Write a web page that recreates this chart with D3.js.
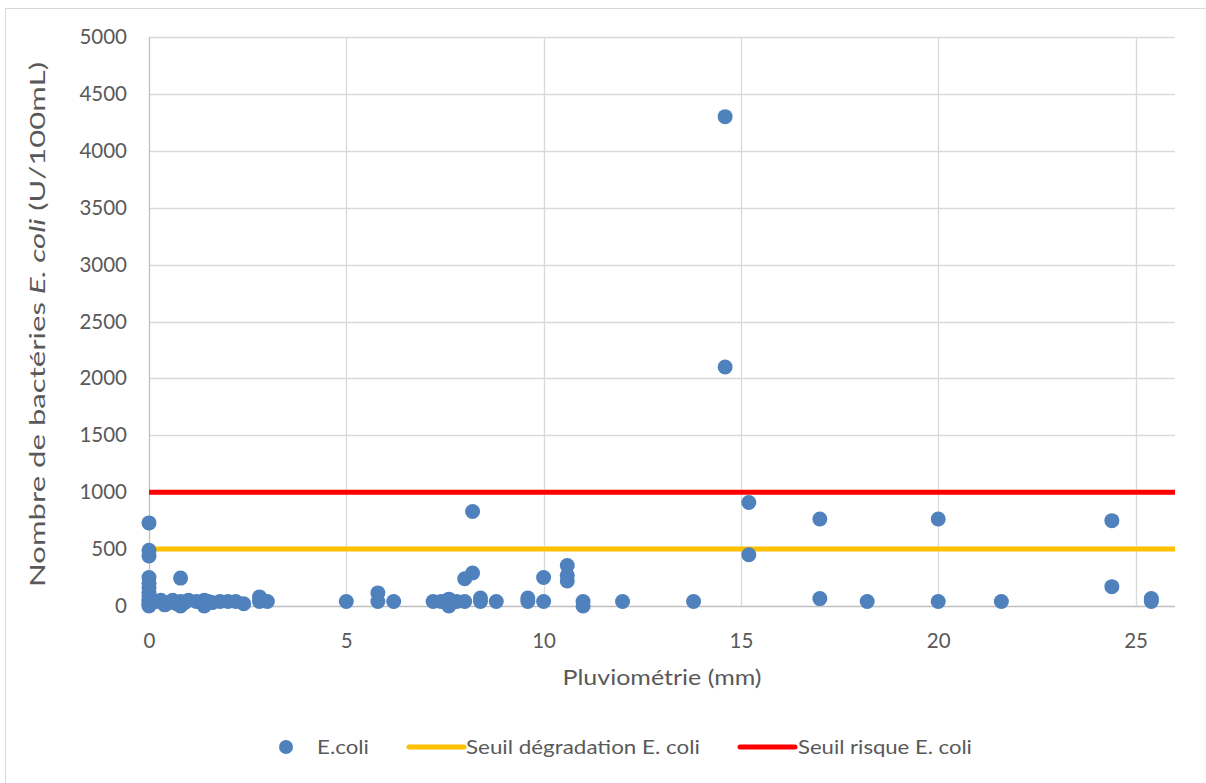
<!DOCTYPE html>
<html>
<head>
<meta charset="utf-8">
<script src="https://cdn.jsdelivr.net/npm/d3@7"></script>
<style>
  body { margin: 0; background: #fff; }
  svg { display: block; font-family: Lato, "Open Sans", sans-serif; }
</style>
</head>
<body>
<script>
// rainfall (mm) and E. coli count (U/100mL)
var pluvio = [
  0, 0, 0, 0, 0, 0, 0, 0, 0, 0, 0, 0, 0,
  0.2, 0.3, 0.4, 0.5, 0.6, 0.7, 0.8, 0.8, 0.8, 0.9, 1.0, 1.2, 1.4, 1.4, 1.5, 1.6, 1.8, 2.0, 2.2, 2.4,
  2.8, 2.8, 3.0, 5.0, 5.8, 5.8, 6.2, 7.2, 7.4, 7.6, 7.6, 7.6, 7.8, 8.0, 8.0, 8.2, 8.2, 8.4, 8.4, 8.8,
  9.6, 9.6, 10.0, 10.0, 10.6, 10.6, 10.6, 11.0, 11.0, 12.0, 13.8, 14.6, 14.6, 15.2, 15.2,
  17.0, 17.0, 18.2, 20.0, 20.0, 21.6, 24.4, 24.4, 25.4, 25.4
];
var ecoli = [
  730, 490, 440, 250, 200, 160, 120, 90, 60, 40, 20, 10, 0,
  40, 50, 10, 30, 50, 20, 0, 245, 40, 30, 50, 40, 0, 50, 40, 30, 40, 40, 40, 20,
  80, 40, 40, 40, 115, 40, 40, 40, 40, 0, 60, 40, 40, 240, 40, 290, 830, 70, 40, 40,
  70, 40, 250, 40, 355, 270, 220, 40, 0, 40, 40, 4300, 2100, 910, 450,
  765, 65, 40, 765, 40, 40, 750, 170, 65, 40
];

var seuilDegradation = 500;
var seuilRisque = 1000;

var xTicks = [0, 5, 10, 15, 20, 25];
var yTicks = [0, 500, 1000, 1500, 2000, 2500, 3000, 3500, 4000, 4500, 5000];

var width = 1206, height = 783;
var margin = {left: 149, right: 31, top: 37, bottom: 177};

var svg = d3.select("body").append("svg")
    .attr("width", width)
    .attr("height", height);

// stretch a text along its own direction so it spans the given width
function fitWidth(sel, target, base) {
    var w = sel.node().getComputedTextLength();
    sel.attr("transform", (base || "") + " scale(" + (target / w) + ",1)");
}

// chart frame
svg.append("rect")
    .attr("x", 5.5).attr("y", 8.5)
    .attr("width", width + 10).attr("height", height + 10)
    .attr("fill", "#fff")
    .attr("stroke", "#d9d9d9");

var x = d3.scaleLinear().domain([0, 26]).range([margin.left, width - margin.right]);
var y = d3.scaleLinear().domain([0, 5000]).range([height - margin.bottom, margin.top]);

// gridlines
svg.append("g")
    .selectAll("line")
    .data(yTicks.slice(1))
    .enter().append("line")
    .attr("x1", x(0)).attr("x2", x(26))
    .attr("y1", function(d) { return Math.round(y(d)) + 0.5; })
    .attr("y2", function(d) { return Math.round(y(d)) + 0.5; })
    .attr("stroke", "#d9d9d9").attr("stroke-width", 1.3);

svg.append("g")
    .selectAll("line")
    .data(xTicks)
    .enter().append("line")
    .attr("y1", y(0)).attr("y2", y(5000))
    .attr("x1", function(d) { return Math.round(x(d)) + 0.5; })
    .attr("x2", function(d) { return Math.round(x(d)) + 0.5; })
    .attr("stroke", function(d) { return d === 0 ? "#bfbfbf" : "#d9d9d9"; })
    .attr("stroke-width", 1.3);

// axes (labels only, Excel style)
var xAxis = svg.append("g")
    .attr("transform", "translate(0," + y(0) + ")")
    .call(d3.axisBottom(x).tickValues(xTicks).tickFormat(d3.format("d")).tickSize(0).tickPadding(26));
var yAxis = svg.append("g")
    .attr("transform", "translate(" + x(0) + ",0)")
    .call(d3.axisLeft(y).tickValues(yTicks).tickFormat(d3.format("d")).tickSize(0).tickPadding(22));

[xAxis, yAxis].forEach(function(g) {
    g.select(".domain").remove();
    g.selectAll("text")
        .attr("fill", "#595959")
        .style("font-size", "20.5px")
        .style("font-family", "Lato, 'Open Sans', sans-serif");
});
xAxis.selectAll("text").attr("dy", "0.35em").attr("y", 35);

svg.append("line")
    .attr("x1", x(0)).attr("x2", x(26))
    .attr("y1", y(0) + 0.5).attr("y2", y(0) + 0.5)
    .attr("stroke", "#bfbfbf").attr("stroke-width", 1.5);

// threshold lines
svg.append("line")
    .attr("x1", x(0)).attr("x2", x(26))
    .attr("y1", y(seuilDegradation)).attr("y2", y(seuilDegradation))
    .attr("stroke", "#ffc000").attr("stroke-width", 5);
svg.append("line")
    .attr("x1", x(0)).attr("x2", x(26))
    .attr("y1", y(seuilRisque)).attr("y2", y(seuilRisque))
    .attr("stroke", "#ff0000").attr("stroke-width", 5);

// points
svg.append("g")
    .selectAll("circle")
    .data(d3.zip(pluvio, ecoli))
    .enter().append("circle")
    .attr("cx", function(d) { return x(d[0]); })
    .attr("cy", function(d) { return y(d[1]); })
    .attr("r", 7.5)
    .attr("fill", "#4f81bd");

// axis titles
var xTitle = svg.append("text")
    .attr("x", 0)
    .attr("y", 0)
    .attr("text-anchor", "middle")
    .attr("fill", "#595959")
    .style("font-size", "21px")
    .text("Pluviométrie (mm)");
fitWidth(xTitle, 199, "translate(" + 662 + ",685)");

var yTitle = svg.append("text")
    .attr("text-anchor", "middle")
    .attr("fill", "#595959")
    .style("font-size", "21px");
yTitle.append("tspan").text("Nombre de bactéries ");
yTitle.append("tspan").style("font-style", "italic").text("E. coli");
yTitle.append("tspan").text(" (U/100mL)");
fitWidth(yTitle, 525, "translate(45," + ((y(0) + y(5000)) / 2 + 3) + ") rotate(-90)");

// legend
var legend = svg.append("g").attr("transform", "translate(0,747)");
legend.append("circle").attr("cx", 286).attr("cy", 0).attr("r", 7).attr("fill", "#4f81bd");
legend.append("line").attr("x1", 409).attr("x2", 464).attr("y1", 0).attr("y2", 0)
    .attr("stroke", "#ffc000").attr("stroke-width", 5).attr("stroke-linecap", "round");
legend.append("line").attr("x1", 740).attr("x2", 795).attr("y1", 0).attr("y2", 0)
    .attr("stroke", "#ff0000").attr("stroke-width", 5).attr("stroke-linecap", "round");

var legendItems = [
    {label: "E.coli", x: 317, w: 52},
    {label: "Seuil dégradation E. coli", x: 466, w: 234},
    {label: "Seuil risque E. coli", x: 798, w: 174}
];
legendItems.forEach(function(d) {
    var t = legend.append("text")
        .attr("fill", "#595959")
        .style("font-size", "20px")
        .attr("y", 0)
        .attr("dy", "0.35em")
        .text(d.label);
    fitWidth(t, d.w, "translate(" + d.x + ",0)");
});
</script>
</body>
</html>
